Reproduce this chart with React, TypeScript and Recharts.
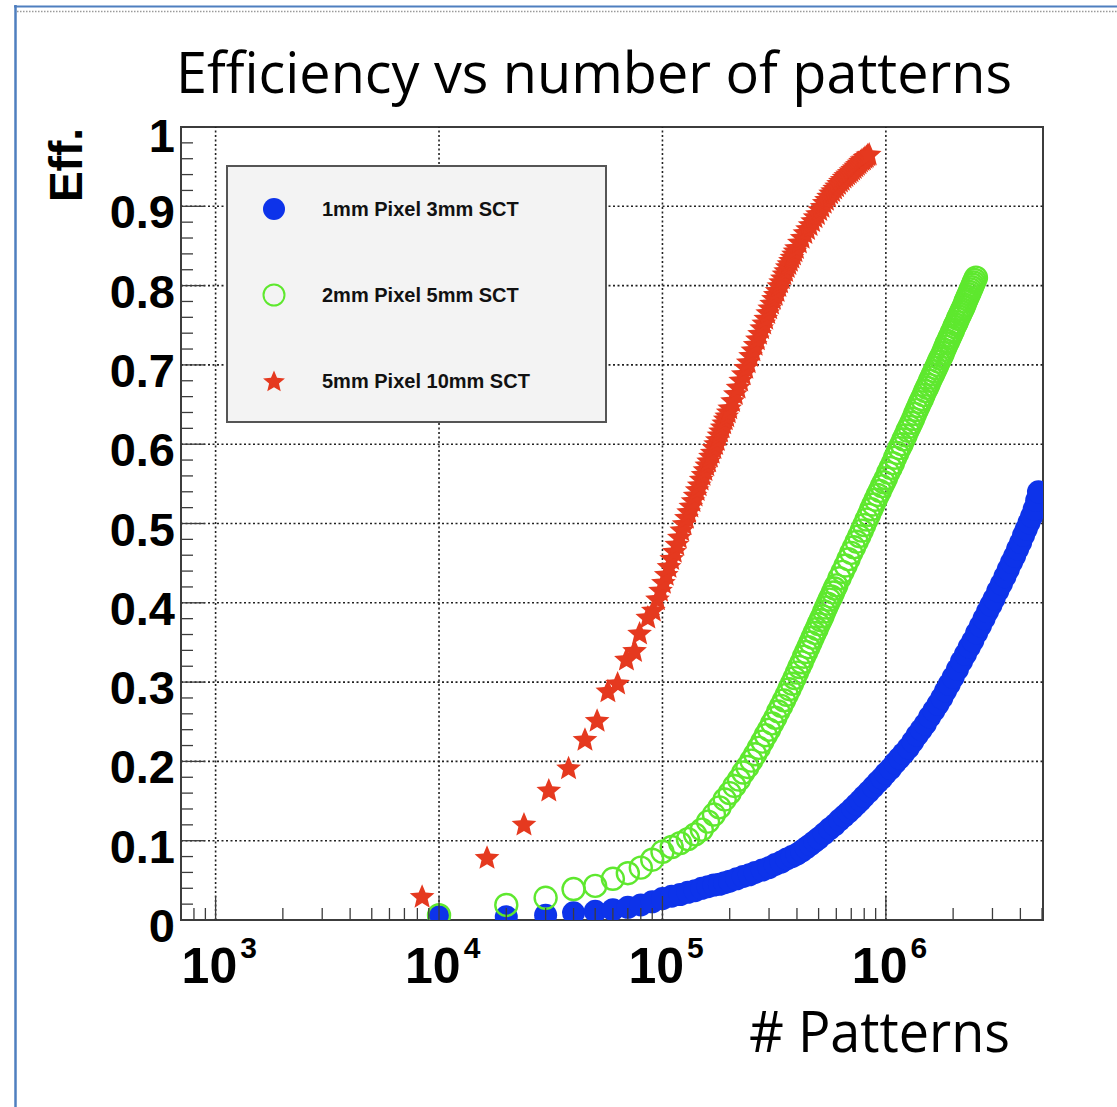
import { Legend, ReferenceArea, ReferenceLine, Scatter, ScatterChart, XAxis, YAxis } from 'recharts';

const AXIS_FONT = '"Liberation Sans", Arial, Helvetica, sans-serif';
const TEXT_FONT = '"Open Sans", "Noto Sans", sans-serif';

const BLUE = '#0d33ea';
const GREEN = '#5ee82e';
const RED = '#e5391f';
const FRAME = '#3c3c3c';

const seriesNames = ['1mm Pixel 3mm SCT', '2mm Pixel 5mm SCT', '5mm Pixel 10mm SCT'];

// [patterns (thousands), efficiency]
const pixel1Sct3: [number, number][] = [
  [10, 0.004], [20, 0.004], [30, 0.006], [40, 0.009], [50, 0.011], [60, 0.013], [70, 0.016], [80, 0.019], [90, 0.023], [100, 0.027],
  [110, 0.03], [120, 0.032], [130, 0.035], [140, 0.037], [150, 0.04], [160, 0.042], [170, 0.044], [180, 0.045], [190, 0.047], [200, 0.049],
  [215, 0.052], [230, 0.055], [245, 0.057], [260, 0.06], [280, 0.063], [300, 0.066], [320, 0.07], [340, 0.073], [360, 0.077], [380, 0.08],
  [400, 0.083], [420, 0.087], [440, 0.091], [460, 0.095], [480, 0.099], [500, 0.103], [530, 0.109], [560, 0.115], [590, 0.12], [620, 0.126],
  [650, 0.131], [680, 0.136], [710, 0.141], [740, 0.146], [770, 0.151], [800, 0.156], [840, 0.162], [880, 0.168], [920, 0.174], [960, 0.179],
  [1000, 0.185], [1050, 0.191], [1100, 0.198], [1150, 0.204], [1200, 0.21], [1260, 0.217], [1320, 0.225], [1380, 0.233], [1440, 0.24], [1500, 0.247],
  [1570, 0.256], [1640, 0.264], [1710, 0.272], [1780, 0.28], [1850, 0.289], [1920, 0.297], [2000, 0.306], [2090, 0.316], [2180, 0.326], [2270, 0.335],
  [2360, 0.344], [2450, 0.352], [2550, 0.362], [2650, 0.371], [2750, 0.38], [2850, 0.389], [2950, 0.397], [3050, 0.405], [3170, 0.415], [3290, 0.424],
  [3410, 0.433], [3530, 0.442], [3650, 0.451], [3770, 0.459], [3890, 0.468], [4010, 0.476], [4130, 0.485], [4250, 0.493], [4370, 0.501], [4490, 0.509],
  [4610, 0.518], [4730, 0.529], [4820, 0.54],
];

const pixel2Sct5: [number, number][] = [
  [10, 0.006], [20, 0.019], [30, 0.028], [40, 0.039], [50, 0.043], [60, 0.052], [70, 0.059], [80, 0.066], [90, 0.076], [100, 0.086],
  [110, 0.092], [120, 0.097], [130, 0.102], [140, 0.108], [150, 0.114], [160, 0.124], [170, 0.133], [180, 0.142], [190, 0.152], [200, 0.16],
  [210, 0.169], [220, 0.177], [230, 0.186], [240, 0.193], [250, 0.201], [260, 0.209], [270, 0.217], [280, 0.225], [290, 0.233], [300, 0.24],
  [310, 0.248], [320, 0.255], [330, 0.263], [340, 0.27], [350, 0.277], [360, 0.284], [370, 0.291], [380, 0.298], [390, 0.305], [400, 0.312],
  [410, 0.319], [420, 0.325], [430, 0.332], [440, 0.338], [450, 0.344], [460, 0.35], [470, 0.356], [480, 0.362], [490, 0.367], [500, 0.373],
  [510, 0.378], [520, 0.383], [530, 0.389], [540, 0.394], [550, 0.399], [560, 0.404], [570, 0.408], [580, 0.413], [590, 0.418], [600, 0.422],
  [620, 0.431], [640, 0.439], [660, 0.447], [680, 0.455], [700, 0.463], [720, 0.47], [740, 0.477], [760, 0.484], [780, 0.491], [800, 0.498],
  [820, 0.505], [840, 0.511], [860, 0.518], [880, 0.524], [900, 0.53], [920, 0.536], [940, 0.541], [960, 0.547], [980, 0.552], [1000, 0.557],
  [1025, 0.564], [1050, 0.57], [1075, 0.576], [1100, 0.583], [1125, 0.589], [1150, 0.595], [1175, 0.6], [1200, 0.606], [1225, 0.611], [1250, 0.617],
  [1275, 0.622], [1300, 0.627], [1325, 0.632], [1350, 0.638], [1375, 0.643], [1400, 0.648], [1425, 0.653], [1450, 0.657], [1475, 0.662], [1500, 0.667],
  [1525, 0.671], [1550, 0.675], [1575, 0.68], [1600, 0.684], [1625, 0.688], [1650, 0.692], [1675, 0.696], [1700, 0.7], [1725, 0.704], [1750, 0.708],
  [1775, 0.711], [1800, 0.715], [1825, 0.719], [1850, 0.723], [1875, 0.727], [1900, 0.73], [1925, 0.734], [1950, 0.737], [1975, 0.741], [2000, 0.744],
  [2025, 0.748], [2050, 0.751], [2075, 0.754], [2100, 0.758], [2125, 0.761], [2150, 0.764], [2175, 0.767], [2200, 0.77], [2225, 0.773], [2250, 0.776],
  [2275, 0.78], [2300, 0.783], [2325, 0.786], [2350, 0.789], [2375, 0.792], [2400, 0.795], [2425, 0.798], [2450, 0.801], [2475, 0.804], [2500, 0.807],
  [2530, 0.81],
];

const pixel5Sct10: [number, number][] = [
  [8.4, 0.03], [16.4, 0.079], [24, 0.121], [31, 0.164], [38, 0.192], [45, 0.228], [51, 0.252], [57, 0.289], [63, 0.299], [69, 0.329],
  [75, 0.34], [79, 0.362], [86, 0.382], [91, 0.391],
  [95, 0.405], [98, 0.416], [101, 0.426], [104, 0.436], [107, 0.446], [110, 0.456], [113, 0.465], [116, 0.474], [119, 0.483], [122, 0.492],
  [125, 0.5], [128, 0.508], [131, 0.515], [134, 0.522], [137, 0.529], [140, 0.536], [143, 0.543], [146, 0.549], [149, 0.556], [152, 0.562],
  [155, 0.568], [158, 0.574], [161, 0.579], [164, 0.585], [167, 0.59], [170, 0.596], [173, 0.601], [176, 0.606], [179, 0.612], [182, 0.617],
  [185, 0.622], [188, 0.627], [191, 0.632], [194, 0.636], [197, 0.641], [200, 0.646],
  [206, 0.655], [212, 0.664], [218, 0.672], [224, 0.681], [230, 0.689], [236, 0.697], [242, 0.704], [248, 0.712], [254, 0.719], [260, 0.726],
  [266, 0.733], [272, 0.74], [278, 0.747], [284, 0.753], [290, 0.759], [296, 0.766], [302, 0.772], [308, 0.778], [314, 0.784], [320, 0.789],
  [326, 0.794], [332, 0.8], [338, 0.805], [344, 0.81], [350, 0.815], [356, 0.819], [362, 0.824], [368, 0.828], [374, 0.832], [380, 0.836],
  [386, 0.84], [392, 0.844], [398, 0.848],
  [410, 0.855], [422, 0.861], [434, 0.867], [446, 0.872], [458, 0.877], [470, 0.882], [482, 0.887], [494, 0.891], [506, 0.896], [518, 0.9],
  [530, 0.905], [542, 0.909], [554, 0.913], [566, 0.917], [578, 0.92], [590, 0.923], [602, 0.926], [614, 0.929], [626, 0.932], [638, 0.934],
  [650, 0.937], [662, 0.939], [674, 0.941], [686, 0.943], [698, 0.945], [710, 0.947], [722, 0.949], [734, 0.951], [746, 0.953], [758, 0.955],
  [770, 0.957], [782, 0.959], [794, 0.96], [806, 0.962], [818, 0.963], [830, 0.965], [842, 0.966],
];

const effMajor = [0, 0.1, 0.2, 0.3, 0.4, 0.5, 0.6, 0.7, 0.8, 0.9, 1];
const patternDecades = [1e3, 1e4, 1e5, 1e6];
const patternDomain: [number, number] = [700, 5.05e6];

const toRows = (pts: [number, number][]) => pts.map(([k, eff]) => ({ patterns: k * 1000, eff }));

// minor ticks every 0.02 on the efficiency axis
const effTicks = Array.from({ length: 51 }, (_, i) => Math.round(i * 2) / 100);

// log ticks 1..9 per decade inside the axis range
const patternTicks: number[] = [];
[1e2, 1e3, 1e4, 1e5, 1e6].forEach((d) => {
  for (let m = 1; m <= 9; m++) {
    const v = m * d;
    if (v >= patternDomain[0] && v <= patternDomain[1]) patternTicks.push(v);
  }
});

function starPath(cx: number, cy: number, R: number, inner = 0.45) {
  let d = '';
  for (let i = 0; i < 10; i++) {
    const r = i % 2 === 0 ? R : R * inner;
    const a = -Math.PI / 2 + (i * Math.PI) / 5;
    d += `${i ? 'L' : 'M'}${(cx + r * Math.cos(a)).toFixed(2)},${(cy + r * Math.sin(a)).toFixed(2)}`;
  }
  return d + 'Z';
}

const FilledDot = (p: any) => <circle cx={p.cx} cy={p.cy} r={11.5} fill={BLUE} />;
const OpenDot = (p: any) => <circle cx={p.cx} cy={p.cy} r={11} fill="none" stroke={GREEN} strokeWidth={2.4} />;
const StarMark = (p: any) => <path d={starPath(p.cx, p.cy + 1, 13)} fill={RED} />;

function PatternTick({ x, y, payload }: any) {
  const exp = Math.log10(payload.value);
  const major = Math.abs(exp - Math.round(exp)) < 1e-6;
  return (
    <g>
      <line x1={x} y1={y} x2={x} y2={y - (major ? 24 : 12)} stroke={FRAME} strokeWidth={1.3} />
      {major && (
        <text x={x - 34} y={y + 63} fontFamily={AXIS_FONT} fontWeight="bold" fontSize={50} fill="#000">
          10
          <tspan dx={3} dy={-25} fontSize={30}>
            {Math.round(exp)}
          </tspan>
        </text>
      )}
    </g>
  );
}

function EffTick({ x, y, payload }: any) {
  const v = Math.round(payload.value * 100) / 100;
  const major = Math.abs(v * 10 - Math.round(v * 10)) < 1e-6;
  const label = v === 0 ? '0' : v === 1 ? '1' : v.toFixed(1);
  return (
    <g>
      <line x1={x} y1={y} x2={x + (major ? 24 : 12)} y2={y} stroke={FRAME} strokeWidth={1.3} />
      {major && (
        <text x={x - 6} y={y + (v === 1 ? 25 : 22)} textAnchor="end" fontFamily={AXIS_FONT} fontWeight="bold" fontSize={47} fill="#000">
          {label}
        </text>
      )}
    </g>
  );
}

function LegendBox() {
  const markers = [
    <circle cx={48} cy={44} r={11} fill={BLUE} />,
    <circle cx={48} cy={130} r={10.5} fill="none" stroke={GREEN} strokeWidth={2} />,
    <path d={starPath(48, 217, 11.5)} fill={RED} />,
  ];
  return (
    <svg width={381} height={258} style={{ display: 'block' }}>
      <rect x={1} y={1} width={379} height={256} fill="#f3f3f3" stroke="#555" strokeWidth={2} />
      {seriesNames.map((name, i) => (
        <g key={name}>
          {markers[i]}
          <text x={96} y={44 + i * 86 + 7} fontFamily={AXIS_FONT} fontWeight="bold" fontSize={20} fill="#111">
            {name}
          </text>
        </g>
      ))}
    </svg>
  );
}

export default function App() {
  return (
    <div style={{ position: 'absolute', left: 0, top: 0, width: 1117, height: 1107, background: '#fff' }}>
      <ScatterChart width={1117} height={1107} margin={{ top: 127, right: 74, bottom: 127, left: 81 }}>
        <XAxis
          type="number"
          dataKey="patterns"
          scale="log"
          domain={patternDomain}
          allowDataOverflow
          ticks={patternTicks}
          interval={0}
          tickSize={0}
          tickMargin={0}
          axisLine={false}
          tickLine={false}
          height={60}
          tick={(props: any) => <PatternTick {...props} />}
        />
        <YAxis
          type="number"
          dataKey="eff"
          domain={[0, 1]}
          allowDataOverflow
          ticks={effTicks}
          interval={0}
          tickSize={0}
          tickMargin={0}
          axisLine={false}
          tickLine={false}
          width={100}
          tick={(props: any) => <EffTick {...props} />}
        />
        {effMajor.slice(1, -1).map((v) => (
          <ReferenceLine key={`h${v}`} y={v} stroke="#222" strokeWidth={1.6} strokeDasharray="2 2.5" />
        ))}
        {patternDecades.map((v) => (
          <ReferenceLine key={`v${v}`} x={v} stroke="#222" strokeWidth={1.6} strokeDasharray="2 2.5" />
        ))}
        <ReferenceArea x1={patternDomain[0]} x2={patternDomain[1]} y1={0} y2={1} fill="none" fillOpacity={0} stroke={FRAME} strokeWidth={2} />
        <Scatter name={seriesNames[0]} data={toRows(pixel1Sct3)} shape={FilledDot} isAnimationActive={false} />
        <Scatter name={seriesNames[1]} data={toRows(pixel2Sct5)} shape={OpenDot} isAnimationActive={false} />
        <Scatter name={seriesNames[2]} data={toRows(pixel5Sct10)} shape={StarMark} isAnimationActive={false} />
        <Legend
          layout="vertical"
          align="center"
          verticalAlign="middle"
          wrapperStyle={{ left: 226, top: 165, width: 381, height: 258 }}
          content={() => <LegendBox />}
        />
      </ScatterChart>
      <svg width={1117} height={1107} style={{ position: 'absolute', left: 0, top: 0, pointerEvents: 'none' }}>
        <line x1={15.5} y1={5} x2={15.5} y2={1107} stroke="#4f7fbf" strokeWidth={2.5} />
        <line x1={14} y1={6.5} x2={1117} y2={6.5} stroke="#4f7fbf" strokeWidth={2} />
        <line x1={17} y1={11.5} x2={1117} y2={11.5} stroke="#9a9a9a" strokeWidth={1.5} strokeDasharray="1.5 1.5" />
        <text x={176} y={93} fontFamily={TEXT_FONT} fontSize={57} textLength={836} lengthAdjust="spacingAndGlyphs" fill="#000">
          Efficiency vs number of patterns
        </text>
        <text x={749} y={1052} fontFamily={TEXT_FONT} fontSize={57} textLength={261} lengthAdjust="spacingAndGlyphs" fill="#000">
          # Patterns
        </text>
        <text
          x={82}
          y={165}
          transform="rotate(-90 82 165)"
          textAnchor="middle"
          fontFamily={AXIS_FONT}
          fontWeight="bold"
          fontSize={46}
          fill="#000"
        >
          Eff.
        </text>
      </svg>
    </div>
  );
}
